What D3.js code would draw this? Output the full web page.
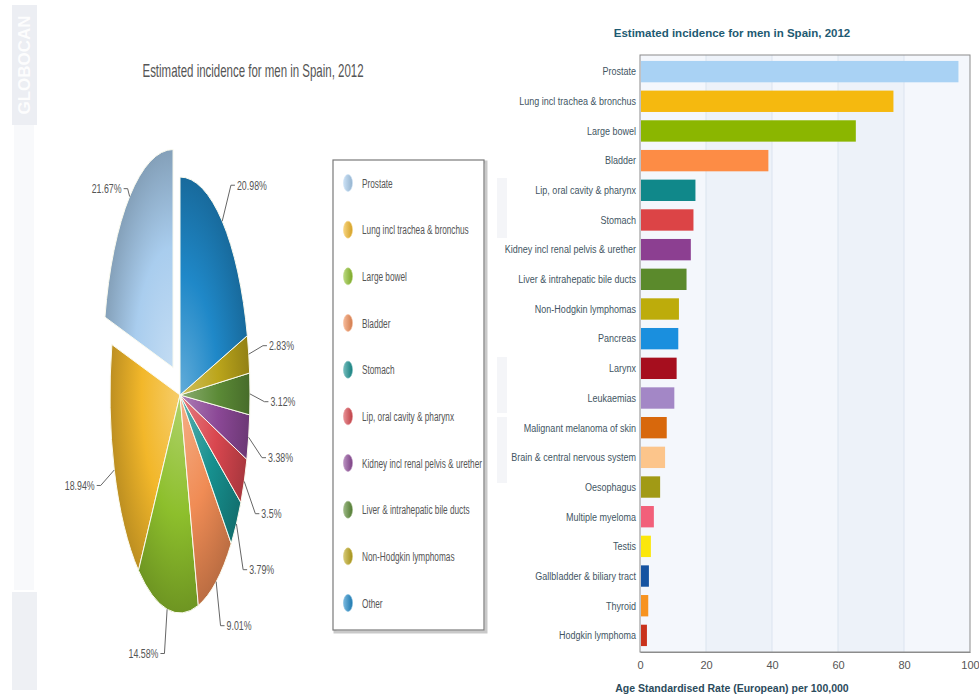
<!DOCTYPE html>
<html>
<head>
<meta charset="utf-8">
<script src="https://cdn.jsdelivr.net/npm/d3@7"></script>
<style>
  html, body { margin: 0; padding: 0; background: #ffffff; }
  svg { display: block; font-family: "Liberation Sans", Arial, sans-serif; }
</style>
</head>
<body>
<script>
// ---- Pie: share of new cases (legend order) ----
const pieCategories = [
  "Prostate", "Lung incl trachea & bronchus", "Large bowel", "Bladder", "Stomach",
  "Lip, oral cavity & pharynx", "Kidney incl renal pelvis & urether",
  "Liver & intrahepatic bile ducts", "Non-Hodgkin lymphomas", "Other"
];
const pieShares = [21.67, 18.94, 14.58, 9.01, 3.79, 3.5, 3.38, 3.12, 2.83, 20.98];
const pieColors = ["#a9cdee", "#f2b72a", "#8dbf2c", "#f08c55", "#17908f",
                   "#d9474f", "#8b4896", "#5b8a36", "#bba51b", "#1f88c8"];
const pieExploded = ["Prostate"];

// ---- Bars: age standardised rate per 100,000 ----
const barCategories = [
  "Prostate", "Lung incl trachea & bronchus", "Large bowel", "Bladder",
  "Lip, oral cavity & pharynx", "Stomach", "Kidney incl renal pelvis & urether",
  "Liver & intrahepatic bile ducts", "Non-Hodgkin lymphomas", "Pancreas", "Larynx",
  "Leukaemias", "Malignant melanoma of skin", "Brain & central nervous system",
  "Oesophagus", "Multiple myeloma", "Testis", "Gallbladder & biliary tract",
  "Thyroid", "Hodgkin lymphoma"
];
const barValues = [96.5, 76.8, 65.4, 38.9, 16.8, 16.2, 15.4, 14.1, 11.8, 11.6,
                   11.1, 10.4, 8.1, 7.6, 6.1, 4.2, 3.3, 2.7, 2.5, 2.1];
const barColors = ["#a9d2f4", "#f5b90f", "#8bb600", "#fd8c45", "#10888a", "#dc4446",
                   "#8c3f91", "#5b8a2c", "#bdac0b", "#1a8fde", "#a60e1e", "#a387c6",
                   "#d8680c", "#fcc58b", "#a19a15", "#f2607a", "#fbe70c", "#1553a1",
                   "#f7931f", "#c9321c"];
const xTicks = [0, 20, 40, 60, 80, 100];

const titleText = "Estimated incidence for men in Spain, 2012";
const axisTitle = "Age Standardised Rate (European) per 100,000";

const svg = d3.select("body").append("svg")
  .attr("width", 979).attr("height", 695);
const defs = svg.append("defs");

// helper: horizontally condensed text
function narrowText(parent, x, y, str, opts) {
  const g = parent.append("g")
    .attr("transform", `translate(${x},${y}) scale(${opts.sx},1)`);
  return g.append("text")
    .attr("text-anchor", opts.anchor || "start")
    .attr("dominant-baseline", "central")
    .attr("font-size", opts.size)
    .attr("font-weight", opts.weight || "normal")
    .attr("fill", opts.fill || "#555")
    .text(str);
}

// ---- faint side banner ----
const side = svg.append("g");
side.append("rect").attr("x", 12).attr("y", 5).attr("width", 25).attr("height", 120).attr("fill", "#eceef3");
side.append("rect").attr("x", 14).attr("y", 125).attr("width", 20).attr("height", 465).attr("fill", "#f8f9fb");
side.append("rect").attr("x", 12).attr("y", 592).attr("width", 25).attr("height", 98).attr("fill", "#eef0f4");
side.append("text")
  .attr("transform", "translate(30,65) rotate(-90)")
  .attr("text-anchor", "middle").attr("font-size", 17).attr("font-weight", "bold")
  .attr("fill", "#ffffff").attr("opacity", 0.9).text("GLOBOCAN");
[[497, 178, 60], [497, 357, 56], [497, 417, 66]].forEach(([x, y, h]) => {
  side.append("rect").attr("x", x).attr("y", y).attr("width", 10).attr("height", h).attr("fill", "#f4f5f8");
});

// ---- Pie chart ----
const cx = 180, cy = 395, ry = 218, rx = 70, sx = rx / ry;
narrowText(svg, 253, 70, titleText, { sx: 0.62, size: 18.5, anchor: "middle", fill: "#555" });

const pie = d3.pie().sort(null).value(d => d.v).startAngle(0).endAngle(-2 * Math.PI);
const pieData = pie(pieCategories.map((c, i) => ({ c, v: pieShares[i], col: pieColors[i] })));
const arc = d3.arc().innerRadius(0).outerRadius(ry);
const explodeDist = 35;

pieData.forEach((d, i) => {
  const col = d3.color(d.data.col);
  const gr = defs.append("radialGradient").attr("id", "pg" + i)
    .attr("gradientUnits", "userSpaceOnUse").attr("cx", 0).attr("cy", 0).attr("r", ry);
  gr.append("stop").attr("offset", 0).attr("stop-color", d3.interpolateRgb(col, "#ffffff")(0.3));
  gr.append("stop").attr("offset", 0.55).attr("stop-color", col);
  gr.append("stop").attr("offset", 1).attr("stop-color", col.darker(0.7));
});

const pieG = svg.append("g").attr("transform", `translate(${cx},${cy}) scale(${sx},1)`);
function offsetOf(d) {
  if (!pieExploded.includes(d.data.c)) return [0, 0];
  const a = (d.startAngle + d.endAngle) / 2;
  return [Math.sin(a) * explodeDist, -Math.cos(a) * explodeDist];
}
pieG.selectAll("path.slice").data(pieData).join("path")
  .attr("class", "slice")
  .attr("d", arc)
  .attr("transform", d => { const o = offsetOf(d); return `translate(${o[0]},${o[1]})`; })
  .attr("fill", (d, i) => `url(#pg${i})`)
  .attr("stroke", "#fbfbef").attr("stroke-width", 1)
  .attr("vector-effect", "non-scaling-stroke");

// data labels with connectors
const R = ry + 45, minGap = 56;
const labels = pieData.map(d => {
  let a = (d.startAngle + d.endAngle) / 2;
  a = ((a % (2 * Math.PI)) + 2 * Math.PI) % (2 * Math.PI);
  const o = offsetOf(d);
  return {
    d, a,
    right: Math.sin(a) >= 0,
    y: cy - R * Math.cos(a),
    ex: cx + (Math.sin(a) * ry + o[0]) * sx,
    ey: cy - Math.cos(a) * ry + o[1]
  };
});
[true, false].forEach(side => {
  const grp = labels.filter(l => l.right === side).sort((p, q) => p.y - q.y);
  for (let k = 1; k < grp.length; k++) {
    if (grp[k].y < grp[k - 1].y + minGap) grp[k].y = grp[k - 1].y + minGap;
  }
});
const lblG = svg.append("g");
labels.forEach(l => {
  const dy = l.y - cy;
  const half = Math.sqrt(Math.max(0, R * R - dy * dy)) * sx;
  const dir = l.right ? 1 : -1;
  const lx = cx + dir * Math.max(half, 8);
  lblG.append("path")
    .attr("d", `M${l.ex},${l.ey} L${lx},${l.y} L${lx + dir * 4},${l.y}`)
    .attr("fill", "none").attr("stroke", "#666").attr("stroke-width", 1);
  narrowText(lblG, lx + dir * 6, l.y, `${l.d.data.v}%`,
    { sx: 0.68, size: 13, anchor: l.right ? "start" : "end", fill: "#555" });
});

// legend
const legG = svg.append("g");
legG.append("rect").attr("x", 335).attr("y", 162).attr("width", 151).attr("height", 470)
  .attr("fill", "none").attr("stroke", "#c9c9c9").attr("stroke-width", 3);
legG.append("rect").attr("x", 333).attr("y", 160).attr("width", 151).attr("height", 470)
  .attr("fill", "#ffffff").attr("stroke", "#7a7a7a").attr("stroke-width", 1.2);
const legY = d3.scalePoint().domain(pieCategories).range([183, 603]);
pieCategories.forEach((c, i) => {
  const col = d3.color(pieColors[i]);
  const lg = defs.append("linearGradient").attr("id", "lg" + i)
    .attr("x1", 0).attr("x2", 1).attr("y1", 0).attr("y2", 0);
  lg.append("stop").attr("offset", 0).attr("stop-color", d3.interpolateRgb(col, "#ffffff")(0.4));
  lg.append("stop").attr("offset", 1).attr("stop-color", col.darker(0.4));
  legG.append("ellipse").attr("cx", 348).attr("cy", legY(c)).attr("rx", 4.5).attr("ry", 8.5)
    .attr("fill", `url(#lg${i})`).attr("stroke", d3.interpolateRgb(col, "#ffffff")(0.4)).attr("stroke-width", 0.6);
  narrowText(legG, 362, legY(c), c, { sx: 0.66, size: 12.5, fill: "#555" });
});

// ---- Bar chart ----
const plot = { left: 640, right: 970, top: 55, bottom: 652 };
const x = d3.scaleLinear().domain([0, 100]).range([plot.left, plot.right]);
const y = d3.scaleBand().domain(barCategories).range([plot.top, plot.bottom])
  .paddingInner(0.28).paddingOuter(0.2);

const barG = svg.append("g");
barG.append("text").attr("x", 732).attr("y", 33).attr("text-anchor", "middle")
  .attr("dominant-baseline", "central").attr("font-size", 11.5).attr("font-weight", "bold")
  .attr("fill", "#1e5a72").text(titleText);

xTicks.slice(0, -1).forEach((t, i) => {
  barG.append("rect").attr("x", x(t)).attr("y", plot.top)
    .attr("width", x(xTicks[i + 1]) - x(t)).attr("height", plot.bottom - plot.top)
    .attr("fill", i % 2 === 0 ? "#f4f7fc" : "#edf2f9");
});
xTicks.slice(1, -1).forEach(t => {
  barG.append("line").attr("x1", x(t)).attr("x2", x(t))
    .attr("y1", plot.top).attr("y2", plot.bottom)
    .attr("stroke", "#dbe4ef").attr("stroke-width", 1);
});
barG.append("rect").attr("x", plot.left).attr("y", plot.top)
  .attr("width", plot.right - plot.left).attr("height", plot.bottom - plot.top)
  .attr("fill", "none").attr("stroke", "#8c8c8c").attr("stroke-width", 1);

barG.selectAll("rect.bar").data(barCategories).join("rect")
  .attr("class", "bar")
  .attr("x", x(0) + 1)
  .attr("y", d => y(d))
  .attr("width", (d, i) => x(barValues[i]) - x(0) - 1)
  .attr("height", y.bandwidth())
  .attr("fill", (d, i) => barColors[i]);

barCategories.forEach(c => {
  narrowText(barG, plot.left - 4, y(c) + y.bandwidth() / 2, c,
    { sx: 0.82, size: 11, anchor: "end", fill: "#3f5563" });
});

const xAxis = barG.append("g").attr("transform", `translate(0,${plot.bottom})`)
  .call(d3.axisBottom(x).tickValues(xTicks).tickSize(0).tickPadding(9).tickFormat(d3.format("d")));
xAxis.select(".domain").attr("stroke", "#8c8c8c");
xAxis.selectAll("text").attr("font-size", 11).attr("fill", "#555")
  .attr("font-family", "'Liberation Sans', Arial, sans-serif");

barG.append("text").attr("x", 732).attr("y", 688).attr("text-anchor", "middle")
  .attr("dominant-baseline", "central").attr("font-size", 10.5).attr("font-weight", "bold")
  .attr("fill", "#2b4b5c").text(axisTitle);
</script>
</body>
</html>
